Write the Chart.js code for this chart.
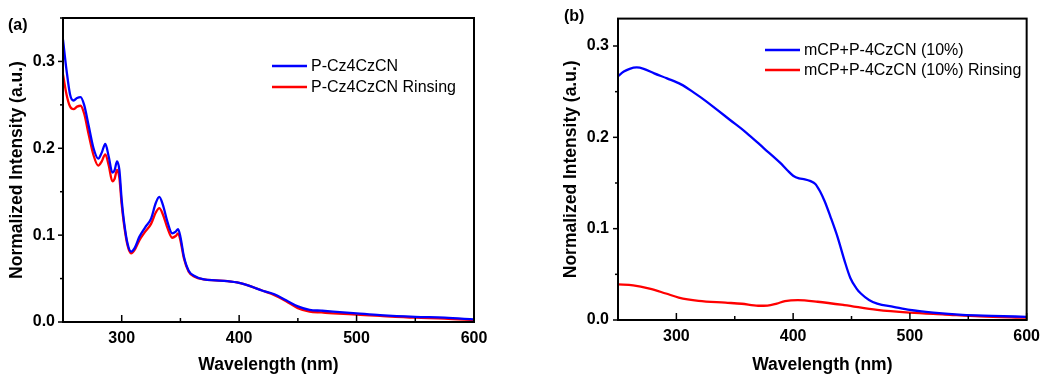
<!DOCTYPE html>
<html>
<head>
<meta charset="utf-8">
<script src="https://cdn.jsdelivr.net/npm/chart.js@4.4.1/dist/chart.umd.min.js"></script>
<style>
  html, body { margin: 0; padding: 0; background: #fff; }
  #page { position: relative; width: 1047px; height: 376px; overflow: hidden; }
  .panel { position: absolute; top: 0; height: 376px; }
  #panelA { left: 0; width: 500px; }
  #panelB { left: 530px; width: 517px; }
  .tag { position: absolute; font: bold 16px "Liberation Sans", Arial, sans-serif; color: #000; }
</style>
</head>
<body>
<div id="page">
  <div class="panel" id="panelA"><canvas id="chartA"></canvas></div>
  <div class="panel" id="panelB"><canvas id="chartB"></canvas></div>
  <div class="tag" style="left:8px; top:16px;">(a)</div>
  <div class="tag" style="left:564px; top:7px;">(b)</div>
</div>
<script>
// Panel (a): P-Cz4CzCN film, before and after rinsing
const waveA = [250, 253, 256, 259, 262, 265, 268, 272, 276, 280, 283, 286, 289, 292, 294, 296, 298, 300, 302, 305,
  308, 311, 315, 320, 325, 329, 332, 335, 339, 343, 346, 348, 350, 353, 357, 362, 370, 380, 390, 400,
  410, 420, 430, 440, 450, 460, 470, 480, 500, 520, 550, 575, 600]
const filmA = [0.325, 0.29, 0.262, 0.255, 0.258, 0.259, 0.25, 0.225, 0.2, 0.188, 0.195, 0.205, 0.19, 0.172, 0.175, 0.185, 0.175, 0.14, 0.115, 0.09,
  0.081, 0.085, 0.098, 0.109, 0.119, 0.137, 0.144, 0.135, 0.115, 0.102, 0.104, 0.107, 0.098, 0.075, 0.059, 0.053, 0.049, 0.048, 0.047, 0.045,
  0.041, 0.036, 0.032, 0.025, 0.018, 0.014, 0.013, 0.012, 0.010, 0.008, 0.006, 0.005, 0.003]
const rinseA = [0.285, 0.262, 0.248, 0.245, 0.248, 0.249, 0.24, 0.215, 0.192, 0.18, 0.185, 0.193, 0.18, 0.162, 0.165, 0.175, 0.166, 0.135, 0.112, 0.088,
  0.079, 0.083, 0.094, 0.104, 0.113, 0.126, 0.131, 0.124, 0.108, 0.097, 0.099, 0.102, 0.094, 0.073, 0.058, 0.052, 0.049, 0.048, 0.047, 0.045,
  0.041, 0.036, 0.031, 0.024, 0.016, 0.012, 0.011, 0.010, 0.0085, 0.007, 0.005, 0.004, 0.002]

// Panel (b): mCP+P-4CzCN (10%) blend
const waveB = [250, 255, 260, 266, 272, 281, 292, 304, 315, 325, 335, 346, 360, 375, 389, 395, 400, 405, 410, 415,
  419, 423, 427, 432, 438, 444, 449, 454, 458, 465, 472, 486, 500, 520, 545, 570, 600]
const blendB = [0.267, 0.272, 0.275, 0.2765, 0.275, 0.270, 0.2645, 0.258, 0.249, 0.240, 0.230, 0.219, 0.205, 0.188, 0.172, 0.164, 0.158, 0.155, 0.154, 0.152,
  0.149, 0.141, 0.130, 0.113, 0.091, 0.065, 0.046, 0.035, 0.029, 0.022, 0.018, 0.0145, 0.011, 0.008, 0.0055, 0.0045, 0.0035]
const waveBR = [250, 263, 277, 291, 302, 319, 342, 356, 370, 378, 386, 393, 404, 421, 444, 472, 500, 530, 560, 600]
const rinseB = [0.039, 0.038, 0.0344, 0.029, 0.0246, 0.021, 0.019, 0.0178, 0.0156, 0.0158, 0.018, 0.0206, 0.0217, 0.020, 0.0163, 0.011, 0.008, 0.006, 0.004, 0.0025]

const xTickLabels = ['300', '400', '500', '600']
const yTickLabels = ['0.0', '0.1', '0.2', '0.3']

const FONT = '"Liberation Sans", Arial, sans-serif'

function toPoints(xs, ys) {
  return xs.map((x, i) => ({ x: x, y: ys[i] }))
}

// frame, tick marks (y outward, x inward) and an inset legend
const framePlugin = {
  id: 'frame',
  afterDraw(chart, args, opts) {
    const { ctx, chartArea: a, scales } = chart
    ctx.save()
    ctx.strokeStyle = '#000'
    ctx.lineWidth = 2
    ctx.strokeRect(a.left, a.top, a.right - a.left, a.bottom - a.top)

    ctx.lineWidth = 1.5
    scales.x.ticks.forEach(t => {
      const px = scales.x.getPixelForValue(t.value)
      const len = t.label ? 7 : 4
      ctx.beginPath()
      ctx.moveTo(px, a.bottom)
      ctx.lineTo(px, a.bottom - len)
      ctx.stroke()
    })
    scales.y.ticks.forEach(t => {
      const py = scales.y.getPixelForValue(t.value)
      const len = t.label ? 5 : 3
      ctx.beginPath()
      ctx.moveTo(a.left, py)
      ctx.lineTo(a.left - len, py)
      ctx.stroke()
    })

    // legend
    ctx.font = '16px ' + FONT
    ctx.textBaseline = 'middle'
    ctx.textAlign = 'left'
    chart.data.datasets.forEach((ds, i) => {
      const y = opts.y + i * opts.gap
      ctx.strokeStyle = ds.borderColor
      ctx.lineWidth = 2.3
      ctx.beginPath()
      ctx.moveTo(opts.x, y)
      ctx.lineTo(opts.x + 35, y)
      ctx.stroke()
      ctx.fillStyle = '#000'
      ctx.fillText(ds.label, opts.x + 39, y + 1)
    })
    ctx.restore()
  }
}

function makeChart(canvasId, datasets, cfg) {
  return new Chart(document.getElementById(canvasId), {
    type: 'line',
    data: { datasets: datasets },
    options: {
      responsive: true,
      maintainAspectRatio: false,
      animation: false,
      layout: { padding: { top: cfg.top, right: cfg.right, left: 0, bottom: 0 } },
      elements: {
        point: { radius: 0 },
        line: { borderWidth: 2.3, cubicInterpolationMode: 'monotone' }
      },
      plugins: {
        legend: { display: false },
        tooltip: { enabled: false },
        frame: cfg.legend
      },
      scales: {
        x: {
          type: 'linear',
          min: 250,
          max: 600,
          afterFit: s => { s.height = cfg.bottomH },
          grid: { display: false, drawTicks: false },
          border: { display: false },
          ticks: {
            stepSize: 50,
            padding: 7,
            color: '#000',
            font: { family: FONT, size: 16, weight: 'bold' },
            callback: v => xTickLabels.includes(String(v)) ? String(v) : ''
          },
          title: {
            display: true,
            text: 'Wavelength (nm)',
            color: '#000',
            font: { family: FONT, size: 17.5, weight: 'bold' },
            padding: { top: 0, bottom: 0 }
          }
        },
        y: {
          min: 0,
          max: cfg.yMax,
          afterFit: s => { s.width = cfg.leftW },
          grid: { display: false, drawTicks: false },
          border: { display: false },
          ticks: {
            stepSize: 0.05,
            includeBounds: false,
            padding: cfg.yPad,
            color: '#000',
            font: { family: FONT, size: 16, weight: 'bold' },
            callback: v => {
              const s = v.toFixed(1)
              return (Math.abs(v * 10 - Math.round(v * 10)) < 1e-6 && yTickLabels.includes(s)) ? s : ''
            }
          },
          title: {
            display: true,
            text: 'Normalized Intensity (a.u.)',
            color: '#000',
            font: { family: FONT, size: 17.5, weight: 'bold' },
            padding: { top: cfg.titlePad, bottom: 0 }
          }
        }
      }
    },
    plugins: [framePlugin]
  })
}

makeChart('chartA', [
  { label: 'P-Cz4CzCN', data: toPoints(waveA, filmA), borderColor: '#0000ff' },
  { label: 'P-Cz4CzCN Rinsing', data: toPoints(waveA, rinseA), borderColor: '#ff0000' }
], { top: 18, right: 26, leftW: 63, bottomH: 54, yMax: 0.35, yPad: 8, titlePad: 7, legend: { x: 272, y: 66, gap: 21 } })

makeChart('chartB', [
  { label: 'mCP+P-4CzCN (10%)', data: toPoints(waveB, blendB), borderColor: '#0000ff' },
  { label: 'mCP+P-4CzCN (10%) Rinsing', data: toPoints(waveBR, rinseB), borderColor: '#ff0000' }
], { top: 16, right: 16, leftW: 88, bottomH: 56, yMax: 0.33, yPad: 9, titlePad: 31, legend: { x: 235, y: 50, gap: 20 } })
</script>
</body>
</html>
